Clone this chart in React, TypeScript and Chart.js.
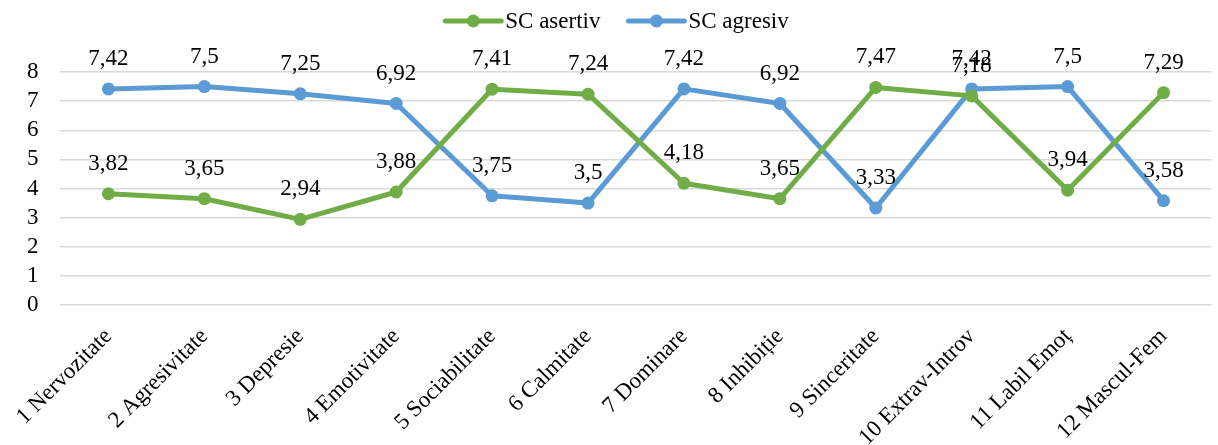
import React, { useEffect, useRef } from "react";
import { Chart, registerables } from "chart.js";

Chart.register(...registerables);

const categories = [
  "1 Nervozitate",
  "2 Agresivitate",
  "3 Depresie",
  "4 Emotivitate",
  "5 Sociabilitate",
  "6 Calmitate",
  "7 Dominare",
  "8 Inhibiție",
  "9 Sinceritate",
  "10 Extrav-Introv",
  "11 Labil Emoț",
  "12 Mascul-Fem",
];
const asertiv = [3.82, 3.65, 2.94, 3.88, 7.41, 7.24, 4.18, 3.65, 7.47, 7.18, 3.94, 7.29];
const agresiv = [7.42, 7.5, 7.25, 6.92, 3.75, 3.5, 7.42, 6.92, 3.33, 7.42, 7.5, 3.58];
const seriesNames = ["SC asertiv", "SC agresiv"];
const seriesColors = ["#70AD47", "#5B9BD5"];
const yTicks = [0, 1, 2, 3, 4, 5, 6, 7, 8];

const FONT = "'Liberation Serif', 'Times New Roman', serif";
const FS = 23;

const fmt = (v: number) => String(v).replace(".", ",");

const dataLabelPlugin = {
  id: "dataLabels",
  afterDatasetsDraw(chart: any) {
    const ctx = chart.ctx;
    ctx.save();
    ctx.font = `${FS}px ${FONT}`;
    ctx.fillStyle = "#000";
    ctx.textAlign = "center";
    ctx.textBaseline = "middle";
    chart.data.datasets.forEach((ds: any, i: number) => {
      const meta = chart.getDatasetMeta(i);
      meta.data.forEach((pt: any, j: number) => {
        ctx.fillText(fmt(ds.data[j]), pt.x, pt.y - 30);
      });
    });
    ctx.restore();
  },
};

const legendPlugin = {
  id: "customLegend",
  afterDraw(chart: any) {
    const ctx = chart.ctx;
    ctx.save();
    ctx.font = `${FS}px ${FONT}`;
    const lineW = 56;
    const gapText = 4;
    const gapItem = 28;
    const items = chart.data.datasets.map((ds: any) => ({
      label: ds.label,
      color: ds.borderColor,
      w: ctx.measureText(ds.label).width,
    }));
    const total =
      items.reduce((s: number, it: any) => s + lineW + gapText + it.w, 0) +
      gapItem * (items.length - 1);
    let x = chart.width / 2 + 8 - total / 2;
    const y = 21;
    items.forEach((it: any) => {
      ctx.strokeStyle = it.color;
      ctx.lineWidth = 5;
      ctx.lineCap = "round";
      ctx.beginPath();
      ctx.moveTo(x, y);
      ctx.lineTo(x + lineW, y);
      ctx.stroke();
      ctx.fillStyle = it.color;
      ctx.beginPath();
      ctx.arc(x + lineW / 2, y, 6.5, 0, Math.PI * 2);
      ctx.fill();
      ctx.fillStyle = "#000";
      ctx.textAlign = "left";
      ctx.textBaseline = "middle";
      ctx.fillText(it.label, x + lineW + gapText, y + 1);
      x += lineW + gapText + it.w + gapItem;
    });
    ctx.restore();
  },
};

export default function App() {
  const ref = useRef<HTMLCanvasElement | null>(null);

  useEffect(() => {
    document.body.style.margin = "0";
    if (!ref.current) return;
    const chart = new Chart(ref.current, {
      type: "line",
      data: {
        labels: categories,
        datasets: [asertiv, agresiv].map((d, i) => ({
          label: seriesNames[i],
          data: d,
          borderColor: seriesColors[i],
          backgroundColor: seriesColors[i],
          borderWidth: 5,
          pointRadius: 6.5,
          pointHoverRadius: 6.5,
          pointBorderWidth: 0,
          tension: 0,
          borderCapStyle: "round",
          borderJoinStyle: "round",
        })),
      },
      options: {
        animation: false,
        responsive: false,
        maintainAspectRatio: false,
        layout: { padding: { top: 72, right: 5, left: 0, bottom: 0 } },
        plugins: {
          legend: { display: false },
          tooltip: { enabled: false },
        },
        scales: {
          x: {
            offset: true,
            grid: { display: false, drawTicks: false },
            border: { display: false },
            ticks: {
              autoSkip: false,
              maxRotation: 45,
              minRotation: 45,
              padding: 18,
              color: "#000",
              font: { family: FONT, size: FS },
            },
            afterFit(scale: any) {
              scale.height = 140;
            },
          },
          y: {
            min: 0,
            max: 8,
            afterBuildTicks(scale: any) {
              scale.ticks = yTicks.map((v) => ({ value: v }));
            },
            grid: { color: "#D9D9D9", lineWidth: 1.5, drawTicks: false },
            border: { display: false },
            ticks: {
              autoSkip: false,
              padding: 22,
              color: "#000",
              font: { family: FONT, size: FS },
            },
            afterFit(scale: any) {
              scale.width = 57;
            },
          },
        },
      },
      plugins: [dataLabelPlugin, legendPlugin],
    } as any);
    return () => chart.destroy();
  }, []);

  return <canvas ref={ref} width={1218} height={445} style={{ display: "block" }} />;
}
